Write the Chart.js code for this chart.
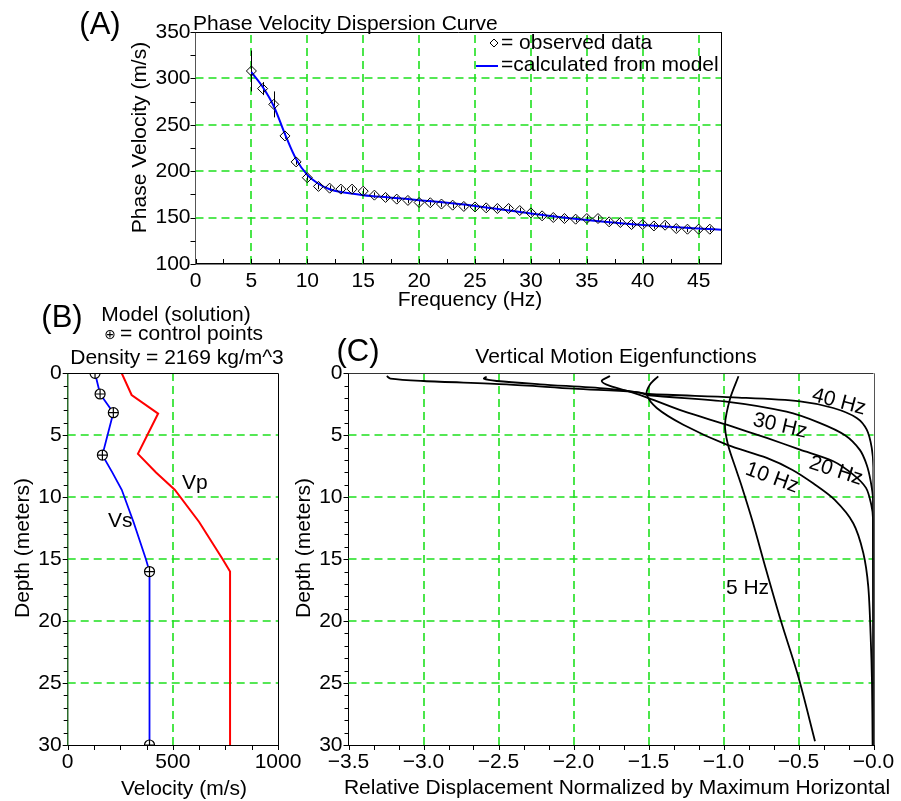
<!DOCTYPE html>
<html><head><meta charset="utf-8">
<script src="https://cdn.jsdelivr.net/npm/chart.js@4"></script>
<style>
html,body{margin:0;padding:0;background:#fff;}
#wrap{position:relative;width:901px;height:801px;overflow:hidden;background:#fff;}
#wrap canvas{position:absolute;left:0;top:0;}
</style></head><body>
<div id="wrap">
<canvas id="cA" width="901" height="801"></canvas>
<canvas id="cB" width="901" height="801"></canvas>
<canvas id="cC" width="901" height="801"></canvas>
</div>
<script>
// ---------- Panel A : phase velocity dispersion ----------
const freqObs = [5,6,7,8,9,10,11,12,13,14,15,16,17,18,19,20,21,22,23,24,25,26,27,28,29,30,31,32,33,34,35,36,37,38,39,40,41,42,43,44,45,46];
const velObs  = [308,289,272,238,210,193,183.6,181.7,180.7,180.7,178.5,174.2,171.7,169.9,168.5,166.3,166,164.6,163.4,162,161.5,160.5,159.8,159.8,157.6,155.1,151.9,150.1,149,148.3,149,149,145.4,144.7,142.5,142.5,141,141.8,138.2,137.5,137.5,137.5];
const velErr  = [22,7,14,3,3,3,3,3,3,3,3,3,3,3,3,3,3,3,3,3,3,3,3,3,3,3,3,3,3,3,3,3,3,3,3,3,3,3,3,3,3,3];
const freqCalc = [5,6,7,8,9,10,11,12,13,15,17.5,20,25,30,35,40,45,47];
const velCalc  = [306.7,291,270,240,213,196,186.5,180.5,177.5,174.2,171.5,168.8,162.6,154.5,147.5,142,138.2,137];
const aXTicks = [0,5,10,15,20,25,30,35,40,45];
const aYTicks = [100,150,200,250,300,350];

// ---------- Panel B : velocity model ----------
const vsVel   = [130,154,217,165,212,257,313,372,389,389];
const vsDepth = [0,1.67,3.18,6.6,8,9.4,12,15,16,30];
const vpVel   = [257,304,430,334,420,509,625,737,772,772];
const vpDepth = [0,1.75,3.25,6.5,8,9.4,12,15,16,30];
const ctrlVel   = [130,154,217,165,389,389];
const ctrlDepth = [0,1.67,3.18,6.6,16,30];
const bXTicks = [0,500,1000];
const bYTicks = [0,5,10,15,20,25,30];

// ---------- Panel C : vertical motion eigenfunctions ----------
const c5Disp   = [-0.90,-0.955,-0.99,-0.97,-0.915,-0.875,-0.805,-0.715,-0.617,-0.501,-0.39];
const c5Depth  = [0.24,2.0,4.15,5.76,7.8,9.25,12,15.9,20,24.5,29.7];
const c10Disp  = [-1.435,-1.49,-1.512,-1.445,-1.268,-0.979,-0.712,-0.54,-0.40,-0.26,-0.135,-0.068,-0.035,-0.019,-0.01,-0.006];
const c10Depth = [0.24,0.9,1.7,2.8,4.15,5.76,6.83,7.8,8.9,10.2,12.1,14.5,17.2,21.2,25,30];
const c20Disp  = [-1.757,-1.812,-1.757,-1.62,-1.5,-1.268,-0.979,-0.712,-0.49,-0.268,-0.135,-0.05,-0.015,-0.003,0];
const c20Depth = [0.22,0.62,1.02,1.5,2.0,3.06,4.15,5.22,6.16,7.1,8.18,9.25,10.6,11.8,30];
const c30Disp  = [-2.579,-2.597,-2.512,-2.223,-1.779,-1.557,-1.5,-0.97,-0.58,-0.36,-0.19,-0.09,-0.045,-0.019,-0.003,0];
const c30Depth = [0.27,0.435,0.62,0.89,1.24,1.56,1.77,2.3,3.1,4.0,5.0,6.2,7.4,8.7,10.2,30];
const c40Disp  = [-3.245,-3.22,-3.0,-2.445,-2.0,-1.6,-1.5,-0.935,-0.49,-0.268,-0.112,-0.045,-0.012,-0.001,0];
const c40Depth = [0.22,0.43,0.62,0.89,1.24,1.5,1.67,1.94,2.26,2.8,3.6,4.55,6.0,7.6,30];
const cXTicks = [-3.5,-3,-2.5,-2,-1.5,-1,-0.5,0];
const cXTickLabels = ['\u22123.5','\u22123.0','\u22122.5','\u22122.0','\u22121.5','\u22121.0','\u22120.5','\u22120.0'];
const cYTicks = [0,5,10,15,20,25,30];

// ---------- styling ----------
const FONT = "'Liberation Sans', Arial, Helvetica, sans-serif";
const GREEN = '#1ee01e';
const DASH = [8, 5];
Chart.defaults.font.family = FONT;
Chart.defaults.font.size = 21;
Chart.defaults.color = '#000';
Chart.defaults.animation = false;
Chart.defaults.plugins.legend.display = false;
Chart.defaults.plugins.tooltip.enabled = false;

const pts = (xs, ys) => xs.map((x, i) => ({x: x, y: ys[i]}));
function minorRange(a, b, step, skipEvery) {
  const out = [];
  const n = Math.round((b - a) / step);
  for (let i = 0; i <= n; i++) {
    if (skipEvery && i % skipEvery === 0) continue;
    out.push(a + i * step);
  }
  return out;
}
const inner = arr => arr.slice(1, -1);

function axis(o) {
  return {
    type: 'linear', min: o.min, max: o.max, reverse: !!o.reverse,
    afterBuildTicks: s => { s.ticks = o.ticks.map(v => ({value: v})); },
    afterFit: s => { if (o.w !== undefined) s.width = o.w; if (o.h !== undefined) s.height = o.h; },
    ticks: { autoSkip: false, maxRotation: 0, minRotation: 0, padding: o.pad, color: '#000',
             font: {size: 21, family: FONT}, callback: o.cb || (v => String(v)) },
    grid: { display: false, drawTicks: false },
    border: { display: true, color: o.bc || '#000', width: o.bw || 1 }
  };
}

const decoPlugin = {
  id: 'deco',
  beforeDatasetsDraw(chart, args, o) {
    const ctx = chart.ctx, a = chart.chartArea, xs = chart.scales.x, ys = chart.scales.y;
    ctx.save();
    ctx.strokeStyle = GREEN; ctx.lineWidth = 1.6; ctx.setLineDash(DASH);
    ctx.beginPath();
    (o.gridX || []).forEach(v => {
      const p = Math.round(xs.getPixelForValue(v));
      ctx.moveTo(p, a.bottom); ctx.lineTo(p, a.top);
    });
    (o.gridY || []).forEach(v => {
      const p = Math.round(ys.getPixelForValue(v));
      ctx.moveTo(a.left, p); ctx.lineTo(a.right, p);
    });
    ctx.stroke();
    ctx.restore();
    if (o.err) {
      ctx.save(); ctx.strokeStyle = '#000'; ctx.lineWidth = 1; ctx.beginPath();
      freqObs.forEach((f, i) => {
        const px = Math.round(xs.getPixelForValue(f)) + 0.5;
        ctx.moveTo(px, ys.getPixelForValue(velObs[i] - velErr[i]));
        ctx.lineTo(px, ys.getPixelForValue(velObs[i] + velErr[i]));
      });
      ctx.stroke(); ctx.restore();
    }
  },
  afterDraw(chart, args, o) {
    const ctx = chart.ctx, a = chart.chartArea;
    ctx.save();
    (o.ticks || []).forEach(t => {
      const s = chart.scales[t.axis];
      ctx.strokeStyle = '#000'; ctx.lineWidth = 1; ctx.beginPath();
      t.values.forEach(v => {
        const p = Math.round(s.getPixelForValue(v)) + 0.5;
        if (t.axis === 'x') { ctx.moveTo(p, a.bottom); ctx.lineTo(p, a.bottom + t.len); }
        else { ctx.moveTo(a.left, p); ctx.lineTo(a.left - t.len, p); }
      });
      ctx.stroke();
    });
    (o.frame || []).forEach(f => {
      ctx.strokeStyle = f.color; ctx.lineWidth = f.width; ctx.beginPath();
      if (f.side === 'top') { ctx.moveTo(a.left, Math.round(a.top) + 0.5); ctx.lineTo(a.right, Math.round(a.top) + 0.5); }
      if (f.side === 'right') { ctx.moveTo(Math.round(a.right) + 0.5, a.top); ctx.lineTo(Math.round(a.right) + 0.5, a.bottom); }
      ctx.stroke();
    });
    ctx.restore();
  }
};

const textPlugin = {
  id: 'texts',
  afterDraw(chart, args, o) {
    const ctx = chart.ctx;
    (o.shapes || []).forEach(sh => {
      ctx.save();
      ctx.strokeStyle = sh.color; ctx.lineWidth = sh.width; ctx.beginPath();
      if (sh.type === 'diamond') {
        ctx.moveTo(sh.x, sh.y - sh.r); ctx.lineTo(sh.x + sh.r, sh.y);
        ctx.lineTo(sh.x, sh.y + sh.r); ctx.lineTo(sh.x - sh.r, sh.y); ctx.closePath();
      } else {
        ctx.moveTo(sh.x1, sh.y1); ctx.lineTo(sh.x2, sh.y2);
      }
      ctx.stroke(); ctx.restore();
    });
    (o.items || []).forEach(it => {
      ctx.save();
      ctx.font = (it.size || 21) + 'px ' + (it.family || FONT);
      ctx.fillStyle = '#000';
      ctx.textAlign = it.align || 'center';
      ctx.textBaseline = it.baseline || 'alphabetic';
      ctx.translate(it.x, it.y);
      if (it.rot) ctx.rotate(it.rot * Math.PI / 180);
      ctx.fillText(it.t, 0, 0);
      ctx.restore();
    });
  }
};

// ---------- Chart A ----------
new Chart(document.getElementById('cA'), {
  type: 'scatter',
  data: { datasets: [
    { data: pts(freqObs, velObs), pointStyle: 'rectRot', pointRadius: 5, pointBorderColor: '#000',
      pointBackgroundColor: 'rgba(0,0,0,0)', pointBorderWidth: 1, showLine: false },
    { data: pts(freqCalc, velCalc), showLine: true, borderColor: '#0000ff', borderWidth: 2,
      pointRadius: 0, tension: 0.35 }
  ]},
  options: {
    responsive: false, events: [],
    layout: { padding: { left: 155.5, top: 32, right: 180, bottom: 507 } },
    scales: {
      x: axis({ min: 0, max: 47, ticks: aXTicks, h: 30, pad: 5, bw: 1.5 }),
      y: axis({ min: 100, max: 350, ticks: aYTicks, w: 40, pad: 5, bc: '#555', bw: 1 })
    },
    plugins: {
      deco: { err: true, gridX: aXTicks.slice(1), gridY: inner(aYTicks),
        ticks: [ { axis: 'x', values: aXTicks.concat(minorRange(2.5, 42.5, 5)), len: -5 },
                 { axis: 'y', values: aYTicks.concat(minorRange(125, 325, 50)), len: 5 } ],
        frame: [ { side: 'top', color: '#000', width: 1 }, { side: 'right', color: '#000', width: 1 } ] },
      texts: {
        shapes: [ { type: 'diamond', x: 494, y: 43, r: 4, color: '#000', width: 1 },
                  { type: 'line', x1: 476, y1: 66, x2: 498, y2: 66, color: '#0000ff', width: 2 } ],
        items: [
          { t: '(A)', x: 100, y: 34, size: 31 },
          { t: 'Phase Velocity Dispersion Curve', x: 193, y: 30, align: 'left' },
          { t: 'Phase Velocity (m/s)', x: 146, y: 137.5, rot: -90 },
          { t: 'Frequency (Hz)', x: 470, y: 306 },
          { t: '= observed data', x: 501, y: 48.5, align: 'left' },
          { t: '=calculated from model', x: 501, y: 71, align: 'left' }
        ] }
    }
  },
  plugins: [decoPlugin, textPlugin]
});

// ---------- Chart B ----------
new Chart(document.getElementById('cB'), {
  type: 'scatter',
  data: { datasets: [
    { data: pts(ctrlVel, ctrlDepth), pointStyle: 'cross', pointRadius: 5, pointBorderColor: '#000', pointBorderWidth: 1.2, showLine: false },
    { data: pts(ctrlVel, ctrlDepth), pointStyle: 'circle', pointRadius: 5, pointBorderColor: '#000',
      pointBackgroundColor: '#fff', pointBorderWidth: 1.2, showLine: false },
    { data: pts(vsVel, vsDepth), showLine: true, borderColor: '#0000ff', borderWidth: 1.8, pointRadius: 0, tension: 0 },
    { data: pts(vpVel, vpDepth), showLine: true, borderColor: '#ff0000', borderWidth: 2, pointRadius: 0, tension: 0 }
  ]},
  options: {
    responsive: false, events: [],
    layout: { padding: { left: 27.7, top: 373.3, right: 623, bottom: 26 } },
    scales: {
      x: axis({ min: 0, max: 1000, ticks: bXTicks, h: 30, pad: 5 }),
      y: axis({ min: 0, max: 30, reverse: true, ticks: bYTicks, w: 40, pad: 6, bc: '#2a6a2a', bw: 1.5 })
    },
    plugins: {
      deco: { gridX: inner(bXTicks), gridY: inner(bYTicks),
        ticks: [ { axis: 'x', values: bXTicks.concat([125,250,375,625,750,875]), len: 5 },
                 { axis: 'y', values: bYTicks, len: 5 },
                 { axis: 'y', values: minorRange(0, 30, 1, 5), len: 4 } ],
        frame: [ { side: 'top', color: '#000', width: 1 }, { side: 'right', color: '#000', width: 1 } ] },
      texts: { items: [
        { t: '(B)', x: 62, y: 327, size: 31 },
        { t: 'Model (solution)', x: 176, y: 321 },
        { t: '\u2295', x: 110, y: 339, size: 14, family: "'DejaVu Sans', sans-serif" },
        { t: '= control points', x: 120, y: 339.5, align: 'left' },
        { t: 'Density = 2169 kg/m^3', x: 177, y: 364 },
        { t: 'Vp', x: 182, y: 489, align: 'left' },
        { t: 'Vs', x: 108, y: 527, align: 'left' },
        { t: 'Depth (meters)', x: 29, y: 548, rot: -90 },
        { t: 'Velocity (m/s)', x: 184, y: 795 }
      ] }
    }
  },
  plugins: [decoPlugin, textPlugin]
});

// ---------- Chart C ----------
const curve = (xs, ys) => ({ data: pts(xs, ys), showLine: true, borderColor: '#000', borderWidth: 1.8,
                             pointRadius: 0, tension: 0.3 });
new Chart(document.getElementById('cC'), {
  type: 'scatter',
  data: { datasets: [
    curve(c5Disp, c5Depth), curve(c10Disp, c10Depth), curve(c20Disp, c20Depth),
    curve(c30Disp, c30Depth), curve(c40Disp, c40Depth)
  ]},
  options: {
    responsive: false, events: [],
    layout: { padding: { left: 308.5, top: 373.3, right: 27.5, bottom: 26 } },
    scales: {
      x: axis({ min: -3.5, max: 0, ticks: cXTicks, h: 30, pad: 5, cb: (v, i) => cXTickLabels[i] }),
      y: axis({ min: 0, max: 30, reverse: true, ticks: cYTicks, w: 40, pad: 6 })
    },
    plugins: {
      deco: { gridX: inner(cXTicks), gridY: inner(cYTicks),
        ticks: [ { axis: 'x', values: minorRange(-3.5, 0, 1/6), len: 5 },
                 { axis: 'y', values: cYTicks, len: 5 },
                 { axis: 'y', values: minorRange(0, 30, 1, 5), len: 4 } ],
        frame: [ { side: 'top', color: '#333', width: 1 }, { side: 'right', color: '#555', width: 1 } ] },
      texts: { items: [
        { t: '(C)', x: 358, y: 361, size: 31 },
        { t: 'Vertical Motion Eigenfunctions', x: 616, y: 363 },
        { t: 'Depth (meters)', x: 310, y: 548, rot: -90 },
        { t: 'Relative Displacement Normalized by Maximum Horizontal', x: 617, y: 794 },
        { t: '40 Hz', x: 839, y: 402, rot: 15, baseline: 'middle' },
        { t: '30 Hz', x: 780, y: 426, rot: 13, baseline: 'middle' },
        { t: '20 Hz', x: 836, y: 471, rot: 18, baseline: 'middle' },
        { t: '10 Hz', x: 772, y: 478, rot: 20, baseline: 'middle' },
        { t: '5 Hz', x: 747.5, y: 588, baseline: 'middle' }
      ] }
    }
  },
  plugins: [decoPlugin, textPlugin]
});
</script>
</body></html>
